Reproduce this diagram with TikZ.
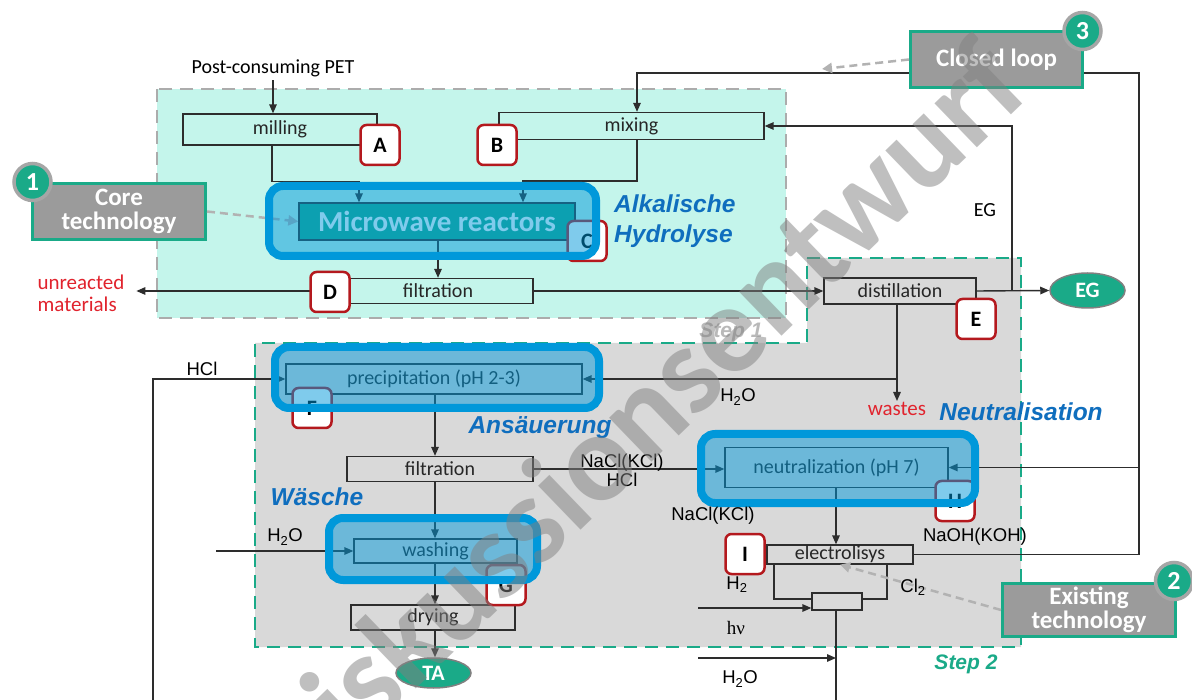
\documentclass[tikz,border=0pt]{standalone}
\usepackage{fontspec}
\setmainfont{Carlito}
\newfontfamily\arialfont{Liberation Sans}
\newfontfamily\timesfont{Liberation Serif}
\usetikzlibrary{arrows.meta,shapes.geometric}
\definecolor{mint}{RGB}{196,245,235}
\definecolor{stepgray}{RGB}{217,217,217}
\definecolor{tealc}{RGB}{26,170,136}
\definecolor{hlblue}{RGB}{0,152,218}
\definecolor{badgered}{RGB}{180,25,30}
\definecolor{linegray}{RGB}{45,45,45}
\definecolor{callgray}{RGB}{155,155,155}
\definecolor{labblue}{RGB}{15,110,190}
\definecolor{wastered}{RGB}{225,35,45}
\newcommand{\setfs}[1]{\fontsize{#1}{#1}\selectfont}

\begin{document}
\begin{tikzpicture}[x=1pt,y=-1pt,
  zoneA/.style={fill=mint,draw=gray!65,line width=2.5pt,dash pattern=on 13pt off 8pt},
  zoneB/.style={fill=stepgray,draw=tealc,line width=2.5pt,dash pattern=on 13pt off 8pt},
  proc/.style={draw=linegray,line width=1.3pt,inner sep=0pt,text=black!85,font=\setfs{20}},
  product/.style={ellipse,fill=tealc,draw=gray,line width=1.5pt,inner sep=0pt,
    text=white,font=\bfseries\setfs{22}},
  badge/.style={draw=badgered,line width=2.5pt,fill=white,rounded corners=6pt,
    minimum width=39pt,minimum height=40pt,inner sep=0pt,font=\bfseries\setfs{22}},
  hilite/.style={draw=hlblue,line width=8pt,rounded corners=14pt,fill=hlblue,fill opacity=0.5},
  callout/.style={fill=callgray,draw=tealc,line width=3pt,align=center,inner sep=0pt,
    text=white,font=\bfseries\fontsize{25}{24}\selectfont},
  numdot/.style={circle,fill=tealc,draw=gray!70,line width=3.5pt,minimum size=37pt,
    inner sep=0pt,text=white,font=\bfseries\setfs{26}},
  chem/.style={inner sep=1pt,font=\arialfont\setfs{18.5}},
  phase/.style={inner sep=0pt,text=labblue,font=\arialfont\bfseries\itshape\fontsize{24.5}{30}\selectfont},
  arr/.style={draw=linegray,line width=1.4pt,-{Triangle[length=9pt,width=7.5pt]}},
  line/.style={draw=linegray,line width=1.4pt},
  callarr/.style={draw=gray!60,line width=2.5pt,dash pattern=on 8pt off 5pt,
    -{Triangle[length=10pt,width=10pt]}}
]
\useasboundingbox (0,0) rectangle (1192,700);
\fill[white] (0,0) rectangle (1192,700);
\path[zoneA] (157,89) rectangle (786,318);
\path[zoneB] (807,258) -- (1021,258) -- (1021,647) -- (255,647) -- (255,343) -- (807,343) -- cycle;
\node[text=gray!55,font=\arialfont\bfseries\itshape\setfs{21}] (step1) at (731,332) {Step 1};
\node[text=tealc,font=\arialfont\bfseries\itshape\setfs{21}] (step2) at (966,664) {Step 2};

\node[proc,minimum width=194pt,minimum height=31pt] (milling) at (280,129.5) {milling};
\node[proc,minimum width=265pt,minimum height=27pt] (mixing) at (631.5,126) {mixing};
\node[proc,fill=tealc,minimum width=276pt,minimum height=37pt,text=white,
  font=\bfseries\setfs{29}] (reactor) at (437,221.5) {Microwave reactors};
\node[proc,minimum width=190pt,minimum height=25pt] (filtA) at (438,291) {filtration};
\node[proc,minimum width=152pt,minimum height=26pt] (distill) at (900,291) {distillation};
\node[proc,minimum width=296pt,minimum height=30pt] (precip) at (434,379) {precipitation (pH 2-3)};
\node[proc,minimum width=186pt,minimum height=25pt] (filtB) at (440,469) {filtration};
\node[proc,minimum width=163pt,minimum height=24pt] (washing) at (435.5,551) {washing};
\node[proc,minimum width=164pt,minimum height=25pt] (drying) at (433,617.5) {drying};
\node[proc,minimum width=223pt,minimum height=40pt] (neutral) at (836.5,467.5) {neutralization (pH 7)};
\node[proc,minimum width=146pt,minimum height=19pt] (electro) at (840,554.5) {electrolisys};
\node[proc,minimum width=50pt,minimum height=17pt] (split) at (837,601.5) {};
\node[product,minimum width=75pt,minimum height=35pt] (egOut) at (1087.5,290.5) {EG};
\node[product,minimum width=75pt,minimum height=30pt] (taOut) at (433.5,673) {TA};

\node[font=\setfs{20}] (pet) at (273,68) {Post-consuming PET};
\node[text=wastered,align=left,inner sep=0pt,outer xsep=12pt,font=\fontsize{21}{22}\selectfont]
  (unr) at (81,293) {unreacted\\materials};
\node[anchor=north,text=wastered,inner sep=1pt,font=\setfs{21}] (wastes) at (897,401) {wastes};
\node[font=\setfs{20}] (egLbl) at (985,210) {EG};

\coordinate (col) at (435,0);
\coordinate (col2) at (836,0);
\coordinate (loopTop) at (1139,73);
\coordinate (egJoin) at (1012,291);
\coordinate (hclIn) at (153,700);
\coordinate (h2oW) at (216,551);
\coordinate (hvIn) at (698,608);
\coordinate (h2oB) at (698,658);
\coordinate (outB) at (836,700);
\coordinate (loopTip) at (822,69);

\draw[arr] (pet) -- (pet |- milling.north);
\draw[arr] ([xshift=-8pt]milling.south) -- ++(0,36) -| ([xshift=-78pt]reactor.north);
\draw[arr] ([xshift=5.5pt]mixing.south) -- ++(0,41) -| ([xshift=86pt]reactor.north);
\draw[arr] (reactor.south -| filtA.north) -- (filtA.north);
\draw[arr] (filtA.west) -- (filtA.west -| unr.east);
\draw[arr] (filtA.east) -- (distill.west);
\draw[arr] (distill.east) -- (egOut.west);
\draw[arr] (egJoin) |- (mixing.east);
\draw[arr] (electro.east) -| (loopTop) -| ([xshift=5.5pt]mixing.north);
\draw[arr] (loopTop |- neutral.east) -- (neutral.east);
\draw[arr] (distill.south -| wastes.north) -- (wastes.north);
\draw[arr] (wastes.north |- precip.east) -- (precip.east);
\draw[arr] (hclIn) |- (precip.west);
\draw[arr] (precip.south -| col) -- (filtB.north -| col);
\draw[arr] (filtB.south -| col) -- (washing.north -| col);
\draw[arr] (washing.south -| col) -- (drying.north -| col);
\draw[arr] (drying.south -| col) -- (taOut.north -| col);
\draw[arr] (filtB.east) -- (filtB.east -| neutral.west);
\draw[arr] (h2oW) -- (washing.west);
\draw[arr] (neutral.south -| col2) -- (electro.north -| col2);
\draw[line] ([xshift=-66pt]electro.south) |- ([yshift=2.5pt]split.west);
\draw[line] ([xshift=47pt]electro.south) |- ([yshift=2.5pt]split.east);
\draw[arr] (hvIn) -- (hvIn -| split.west);
\draw[arr] (h2oB) -- (h2oB -| col2);
\draw[line] (split.south -| col2) -- (outB);

\node[badge] (bA) at (380,145) {A};
\node[badge] (bB) at (497,145) {B};
\node[badge] (bC) at (587,241) {C};
\node[badge] (bD) at (330,292) {D};
\node[badge] (bE) at (976,319) {E};
\node[badge] (bF) at (312,408) {F};
\node[badge] (bG) at (506,585) {G};
\node[badge] (bH) at (955,501) {H};
\node[badge] (bI) at (745,554) {I};

\node[callout,minimum width=173pt,minimum height=56pt] (core) at (119,211.5) {Core\\technology};
\node[callout,minimum width=172pt,minimum height=56pt] (closed) at (996.5,59.5) {Closed loop};
\node[callout,minimum width=173pt,minimum height=53pt] (existing) at (1089,610) {Existing\\technology};
\node[numdot] (n1) at (32.5,182) {1};
\node[numdot] (n3) at (1082.5,31) {3};
\node[numdot] (n2) at (1174,581) {2};
\draw[callarr] (core.east) -- (reactor.west);
\draw[callarr] (closed.west) -- (loopTip);
\draw[callarr] (existing.west) -- (electro.south);

\node[hilite,minimum width=327pt,minimum height=70pt] (hlReactor) at (432.5,221) {};
\node[hilite,minimum width=324pt,minimum height=61pt] (hlPrecip) at (437,377.5) {};
\node[hilite,minimum width=208pt,minimum height=62pt] (hlWash) at (433,549) {};
\node[hilite,minimum width=274pt,minimum height=69pt] (hlNeutral) at (838,468.5) {};

\node[phase,anchor=west,align=left] (alk) at (614,221) {Alkalische\\Hydrolyse};
\node[phase] (acid) at (540,428) {Ansäuerung};
\node[phase] (wash) at (317,497) {Wäsche};
\node[phase] (neut) at (1021,412) {Neutralisation};

\node[chem] (hclLbl) at (202,369) {HCl};
\node[chem] (h2oA) at (738,397) {H\textsubscript{2}O};
\node[chem,align=center,font=\arialfont\fontsize{18.5}{19}\selectfont] (saltA) at (622,470) {NaCl(KCl)\\HCl};
\node[chem] (h2oC) at (285,537) {H\textsubscript{2}O};
\node[chem] (saltB) at (713,516) {NaCl(KCl)};
\node[chem] (baseLbl) at (975,537) {NaOH(KOH)};
\node[chem] (h2Lbl) at (737,585) {H\textsubscript{2}};
\node[chem] (cl2Lbl) at (913,587) {Cl\textsubscript{2}};
\node[font=\timesfont\setfs{19}] (hvLbl) at (736,628) {hν};
\node[chem] (h2oD) at (740,679) {H\textsubscript{2}O};

\node[rotate=44,text=gray,opacity=0.5,font=\bfseries\setfs{126}] (draft) at (634,418) {Diskussionsentwurf};
\end{tikzpicture}
\end{document}
